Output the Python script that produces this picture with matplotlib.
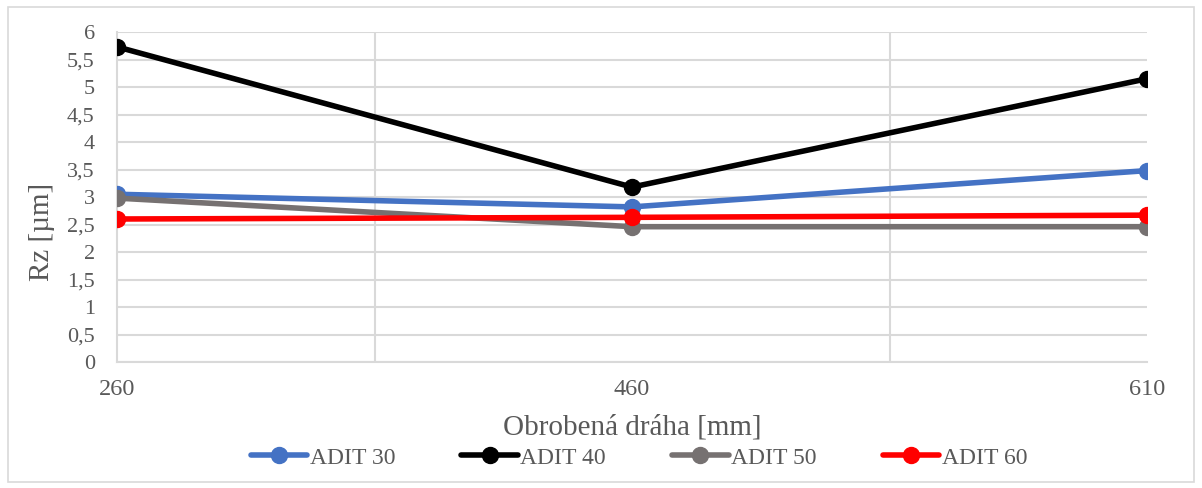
import numpy as np
import matplotlib.pyplot as plt
from matplotlib.ticker import FuncFormatter, MultipleLocator
from matplotlib.patches import Rectangle

# DATA
paths = ["260", "460", "610"]
adit_30 = [3.05, 2.82, 3.48]
adit_40 = [5.73, 3.18, 5.15]
adit_50 = [2.98, 2.46, 2.46]
adit_60 = [2.60, 2.63, 2.67]

series_names = ["ADIT 30", "ADIT 40", "ADIT 50", "ADIT 60"]
series_values = [adit_30, adit_40, adit_50, adit_60]
series_colors = ["#4472C4", "#000000", "#767171", "#FF0000"]

text_color = "#595959"
grid_color = "#D9D9D9"
serif = ['Liberation Serif', 'DejaVu Serif']

plt.rcParams['font.family'] = serif

fig = plt.figure(figsize=(12.02, 4.88), dpi=100)
ax = fig.add_axes([117 / 1202, 1 - 362 / 488, (1147 - 117) / 1202, (362 - 32) / 488])

x = np.arange(len(paths))

for name, values, color in zip(series_names, series_values, series_colors):
    ax.plot(x, values, color=color, linewidth=4, marker='o', markersize=11.5,
            label=name, solid_capstyle='round', zorder=3)

ax.set_xlim(0, len(paths) - 1)
ax.set_ylim(0, 6)

ax.yaxis.set_major_locator(MultipleLocator(0.5))
ax.yaxis.set_major_formatter(FuncFormatter(lambda v, p: f"{v:g}".replace('.', ',')))
ax.set_xticks(x)
ax.set_xticklabels(paths)
ax.set_xticks(np.arange(0, len(paths) - 0.5, 0.5), minor=True)

ax.grid(axis='y', which='major', color=grid_color, linewidth=1.5, zorder=0)
ax.grid(axis='x', which='minor', color=grid_color, linewidth=1.5, zorder=0)
ax.set_axisbelow(True)

for side in ['top', 'right']:
    ax.spines[side].set_visible(False)
for side in ['left', 'bottom']:
    ax.spines[side].set_color(grid_color)
    ax.spines[side].set_linewidth(1.5)

ax.tick_params(axis='both', which='both', length=0, colors=text_color)
ax.tick_params(axis='y', labelsize=16, pad=16)
ax.tick_params(axis='x', labelsize=17.5, pad=12)

ax.set_xlabel("Obrobená dráha [mm]", fontsize=21, color=text_color, labelpad=11)
ax.set_ylabel("Rz [µm]", fontsize=21, color=text_color)
ax.yaxis.set_label_coords((55 - 117) / 1030, (362 - 232) / 330)

fig.legend(loc='center', bbox_to_anchor=(639 / 1202, 1 - 458 / 488), ncol=4,
           frameon=False, prop={'family': serif, 'size': 17},
           handlelength=2.4, handletextpad=0.1,
           columnspacing=2.8, labelcolor=text_color)

# outer chart border
fig.patches.append(Rectangle((8 / 1202, 6 / 488), 1186 / 1202, 475 / 488,
                             transform=fig.transFigure, fill=False,
                             edgecolor=grid_color, linewidth=1.2))

plt.savefig("out.png", dpi=100)
